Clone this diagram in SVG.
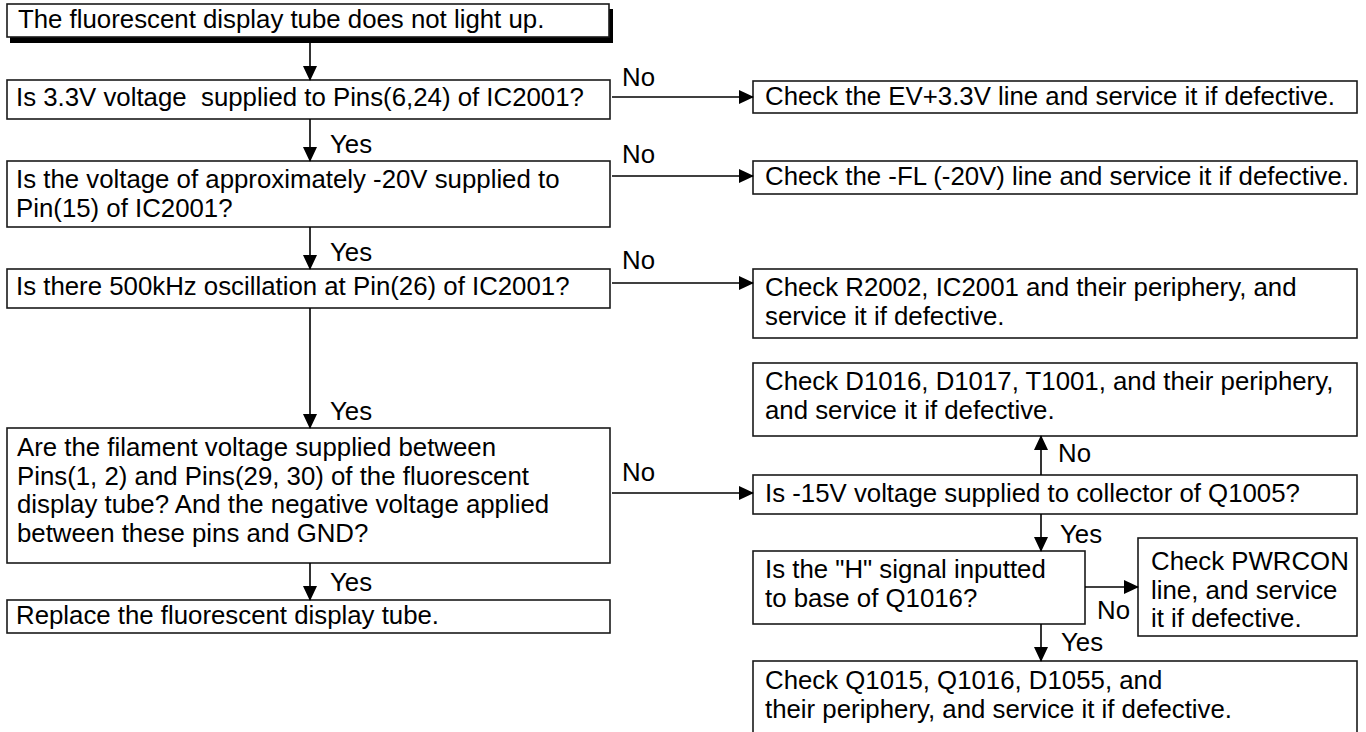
<svg xmlns="http://www.w3.org/2000/svg" width="1366" height="732" viewBox="0 0 1366 732">
<defs>
<marker id="ah" viewBox="0 0 15 14" refX="14" refY="7" markerWidth="15" markerHeight="14" markerUnits="userSpaceOnUse" orient="auto">
<path d="M0,0 L15,7 L0,14 z" fill="#000"/>
</marker>
<style>
rect.b{fill:#fff;stroke:#1a1a1a;stroke-width:1.6}
text{font-family:"Liberation Sans",Arial,Helvetica,sans-serif;font-size:25.8px;fill:#000}
.c{stroke:#000;stroke-width:1.6;fill:none;marker-end:url(#ah)}
</style>
</defs>
<rect width="1366" height="732" fill="#fff"/>

<g id="start">
<rect x="10" y="9" width="603" height="34" fill="#000"/>
<rect class="b" x="7" y="4" width="602" height="33"/>
<text x="18" y="28">The fluorescent display tube does not light up.</text>
</g>

<g id="q1">
<rect class="b" x="7" y="80" width="603" height="39"/>
<text x="16" y="106" xml:space="preserve">Is 3.3V voltage  supplied to Pins(6,24) of IC2001?</text>
</g>
<g id="a1">
<rect class="b" x="753" y="81" width="604" height="32"/>
<text x="765" y="105">Check the EV+3.3V line and service it if defective.</text>
</g>

<g id="q2">
<rect class="b" x="7" y="161" width="603" height="66"/>
<text x="16" y="188">Is the voltage of approximately -20V supplied to</text>
<text x="16" y="217">Pin(15) of IC2001?</text>
</g>
<g id="a2">
<rect class="b" x="753" y="161" width="604" height="33"/>
<text x="765" y="185">Check the -FL (-20V) line and service it if defective.</text>
</g>

<g id="q3">
<rect class="b" x="7" y="269" width="603" height="39"/>
<text x="16" y="295">Is there 500kHz oscillation at Pin(26) of IC2001?</text>
</g>
<g id="a3">
<rect class="b" x="753" y="269" width="604" height="69"/>
<text x="765" y="296">Check R2002, IC2001 and their periphery, and</text>
<text x="765" y="325">service it if defective.</text>
</g>

<g id="q4">
<rect class="b" x="7" y="428" width="603" height="135"/>
<text x="17" y="456">Are the filament voltage supplied between</text>
<text x="17" y="485">Pins(1, 2) and Pins(29, 30) of the fluorescent</text>
<text x="17" y="513">display tube? And the negative voltage applied</text>
<text x="17" y="542">between these pins and GND?</text>
</g>

<g id="end">
<rect class="b" x="7" y="600" width="603" height="33"/>
<text x="16" y="624">Replace the fluorescent display tube.</text>
</g>

<g id="a4">
<rect class="b" x="753" y="363" width="604" height="73"/>
<text x="765" y="390">Check D1016, D1017, T1001, and their periphery,</text>
<text x="765" y="419">and service it if defective.</text>
</g>

<g id="q5">
<rect class="b" x="753" y="475" width="604" height="39"/>
<text x="765" y="502">Is -15V voltage supplied to collector of Q1005?</text>
</g>

<g id="q6">
<rect class="b" x="753" y="551" width="332" height="73"/>
<text x="765" y="578">Is the "H" signal inputted</text>
<text x="765" y="607">to base of Q1016?</text>
</g>

<g id="a5">
<rect class="b" x="1138" y="538" width="219" height="98"/>
<text x="1151" y="570">Check PWRCON</text>
<text x="1151" y="599">line, and service</text>
<text x="1151" y="627">it if defective.</text>
</g>

<g id="a6">
<rect class="b" x="753" y="661" width="604" height="80"/>
<text x="765" y="689">Check Q1015, Q1016, D1055, and</text>
<text x="765" y="718">their periphery, and service it if defective.</text>
</g>

<g id="connectors">
<line class="c" x1="310" y1="43" x2="310" y2="80"/>
<line class="c" x1="310" y1="119" x2="310" y2="161"/>
<line class="c" x1="310" y1="227" x2="310" y2="269"/>
<line class="c" x1="310" y1="308" x2="310" y2="428"/>
<line class="c" x1="310" y1="563" x2="310" y2="600"/>
<line class="c" x1="612" y1="97" x2="753" y2="97"/>
<line class="c" x1="612" y1="176" x2="753" y2="176"/>
<line class="c" x1="612" y1="283" x2="753" y2="283"/>
<line class="c" x1="612" y1="493" x2="753" y2="493"/>
<line class="c" x1="1041" y1="475" x2="1041" y2="436"/>
<line class="c" x1="1041" y1="514" x2="1041" y2="551"/>
<line class="c" x1="1085" y1="587" x2="1138" y2="587"/>
<line class="c" x1="1041" y1="624" x2="1041" y2="661"/>
<text x="622" y="86">No</text>
<text x="622" y="163">No</text>
<text x="622" y="269">No</text>
<text x="622" y="481">No</text>
<text x="330" y="153">Yes</text>
<text x="330" y="261">Yes</text>
<text x="330" y="420">Yes</text>
<text x="330" y="591">Yes</text>
<text x="1058" y="462">No</text>
<text x="1060" y="543">Yes</text>
<text x="1097" y="619">No</text>
<text x="1061" y="651">Yes</text>
</g>
</svg>
